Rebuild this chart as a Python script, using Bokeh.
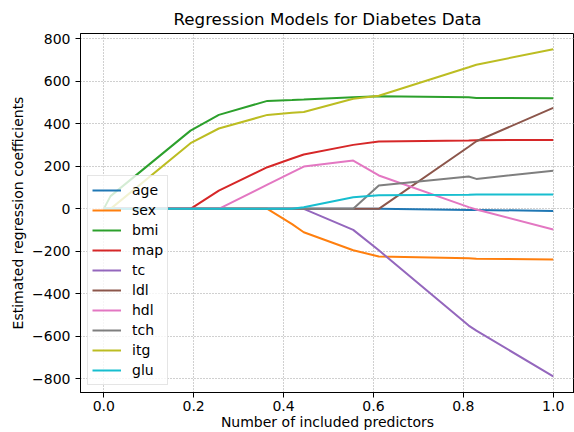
from bokeh.plotting import figure
from bokeh.models import Range1d, FixedTicker, Legend, LegendItem, PrintfTickFormatter
from bokeh.embed import file_html
from bokeh.resources import INLINE

# fraction of total |coef| (x positions of path breakpoints)
fraction = [0.0, 0.015, 0.193, 0.256, 0.364, 0.419, 0.445, 0.555, 0.612, 0.812, 0.829, 1.0]

age = [0, 0, 0, 0, 0, 0, 0, 0, 0, -5, -5, -10]
sex = [0, 0, 0, 0, 0, -72, -110, -195, -224, -232, -235, -238]
bmi = [0, 60, 368, 442, 508, 512, 514, 525, 530, 525, 522, 520]
map_ = [0, 0, 0, 86, 196, 237, 256, 301, 317, 322, 323, 324]
tc = [0, 0, 0, 0, 0, 0, 0, -99, -195, -549, -573, -788]
ldl = [0, 0, 0, 0, 0, 0, 0, 0, 0, 292, 318, 475]
hdl = [0, 0, 0, 0, 114, 172, 199, 227, 157, 8, -3, -97]
tch = [0, 0, 0, 0, 0, 0, 0, 0, 110, 152, 141, 179]
itg = [0, 0, 309, 378, 442, 452, 456, 518, 532, 666, 678, 751]
glu = [0, 0, 0, 0, 0, 0, 8, 55, 64, 66, 67, 68]

names = ["age", "sex", "bmi", "map", "tc", "ldl", "hdl", "tch", "itg", "glu"]
series = [age, sex, bmi, map_, tc, ldl, hdl, tch, itg, glu]
colors = ["#1f77b4", "#ff7f0e", "#2ca02c", "#d62728", "#9467bd",
          "#8c564b", "#e377c2", "#7f7f7f", "#bcbd22", "#17becf"]

x_ticks = [0.0, 0.2, 0.4, 0.6, 0.8, 1.0]
y_ticks = [-800, -600, -400, -200, 0, 200, 400, 600, 800]
y_tick_labels = ["\u2212800", "\u2212600", "\u2212400", "\u2212200", "0", "200", "400", "600", "800"]

title_text = "Regression Models for Diabetes Data"
x_label = "Number of included predictors"
y_label = "Estimated regression coefficients"

FONT = "DejaVu Sans"

p = figure(width=574, height=432, output_backend="svg", toolbar_location=None,
           x_range=Range1d(-0.0518, 1.0474), y_range=Range1d(-864, 825),
           min_border_left=80, min_border_right=0, min_border_top=33, min_border_bottom=40,
           title=title_text)

p.title.align = "center"
p.title.text_font = FONT
p.title.text_font_size = "16.7px"
p.title.text_font_style = "normal"
p.title.text_color = "black"
p.title.standoff = 9

p.outline_line_color = "black"
p.outline_line_width = 1

for g in (p.xgrid, p.ygrid):
    g.grid_line_color = "#a0a0a0"
    g.grid_line_dash = "1 2"
    g.grid_line_width = 1

p.xaxis.ticker = FixedTicker(ticks=x_ticks)
p.xaxis.formatter = PrintfTickFormatter(format="%.1f")
p.yaxis.ticker = FixedTicker(ticks=y_ticks)
p.yaxis.major_label_overrides = {t: l for t, l in zip(y_ticks, y_tick_labels)}

for ax in (p.xaxis, p.yaxis):
    ax.axis_line_color = "black"
    ax.major_tick_line_color = "black"
    ax.minor_tick_line_color = None
    ax.major_tick_in = 0
    ax.major_tick_out = 5
    ax.major_label_text_font = FONT
    ax.major_label_text_font_size = "14px"
    ax.major_label_text_color = "black"
    ax.axis_label_text_font = FONT
    ax.axis_label_text_font_size = "14px"
    ax.axis_label_text_font_style = "normal"
    ax.axis_label_text_color = "black"

p.xaxis.axis_label = x_label
p.yaxis.axis_label = y_label
p.xaxis.major_label_standoff = 3
p.xaxis.axis_label_standoff = 0
p.yaxis.major_label_standoff = 5
p.yaxis.axis_label_standoff = 3

items = []
for name, vals, col in zip(names, series, colors):
    r = p.line(fraction, vals, line_color=col, line_width=2)
    items.append(LegendItem(label=name, renderers=[r]))

legend = Legend(items=items, location=(7, 7))
legend.label_text_font = FONT
legend.label_text_font_size = "14px"
legend.label_text_color = "black"
legend.glyph_width = 29
legend.glyph_height = 20
legend.label_height = 20
legend.label_standoff = 11
legend.spacing = 0
legend.padding = 4
legend.margin = 0
legend.border_line_color = "#cccccc"
legend.border_line_width = 1
legend.background_fill_color = "white"
legend.background_fill_alpha = 0.8
p.add_layout(legend)

open("out.html", "w").write(file_html(p, INLINE))
